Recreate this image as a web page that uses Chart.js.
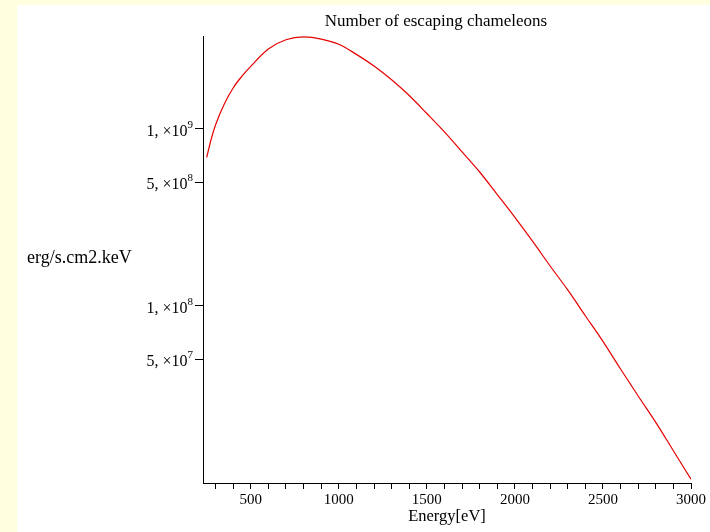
<!DOCTYPE html>
<html>
<head>
<meta charset="utf-8">
<script src="https://cdn.jsdelivr.net/npm/chart.js@4"></script>
<style>
  html, body { margin: 0; padding: 0; background: #ffffe0; width: 710px; height: 532px; overflow: hidden; }
  #box { position: absolute; left: 17px; top: 5px; width: 693px; height: 527px; background: #fff; }
</style>
</head>
<body>
<div id="box"><canvas id="myChart"></canvas></div>
<script>
"use strict";
// Data
const energy = [250, 275, 300, 350, 400, 450, 500, 600, 700, 800, 900, 1000, 1100, 1200, 1300, 1400, 1500,
    1600, 1700, 1800, 1900, 2000, 2100, 2200, 2300, 2400, 2500, 2600, 2700, 2800, 2900, 3000];
const flux = [6.9e8, 8.7e8, 1.05e9, 1.38e9, 1.70e9, 1.98e9, 2.25e9, 2.82e9, 3.18e9, 3.30e9, 3.21e9, 3.00e9,
    2.63e9, 2.26e9, 1.89e9, 1.54e9, 1.22e9, 9.6e8, 7.4e8, 5.7e8, 4.25e8, 3.16e8, 2.32e8, 1.68e8, 1.23e8,
    8.8e7, 6.3e7, 4.4e7, 3.1e7, 2.2e7, 1.52e7, 1.05e7];
const xTicks = [300, 400, 500, 600, 700, 800, 900, 1000, 1100, 1200, 1300, 1400, 1500, 1600, 1700, 1800,
    1900, 2000, 2100, 2200, 2300, 2400, 2500, 2600, 2700, 2800, 2900, 3000];
const xLabels = [500, 1000, 1500, 2000, 2500, 3000];
const yTicks = [5e7, 1e8, 5e8, 1e9];
const yMantissa = ["5", "1", "5", "1"];
const yExponent = ["7", "8", "8", "9"];

const font = "'Liberation Serif', 'Times New Roman', serif";

// extra texts: title, axis labels, y tick labels with real superscripts
const texts = {
    id: "texts",
    afterDraw(chart) {
        const ctx = chart.ctx;
        const ys = chart.scales.y;
        ctx.save();
        ctx.fillStyle = "#000";
        ctx.textBaseline = "middle";
        ctx.textAlign = "center";
        ctx.font = "17px " + font;
        ctx.fillText("Number of escaping chameleons", 419, 17);
        ctx.font = "16.5px " + font;
        ctx.fillText("Energy[eV]", 430, 512);
        ctx.textAlign = "left";
        ctx.font = "18px " + font;
        ctx.fillText("erg/s.cm2.keV", 10, 253);

        const right = ys.left + ys.width - 10;
        yTicks.forEach((v, i) => {
            const y = ys.getPixelForValue(v);
            ctx.textBaseline = "alphabetic";
            ctx.font = "11px " + font;
            const ew = ctx.measureText(yExponent[i]).width;
            ctx.textAlign = "left";
            ctx.fillText(yExponent[i], right - ew, y - 1);
            ctx.font = "16px " + font;
            ctx.textAlign = "right";
            ctx.fillText(yMantissa[i] + ", \u00d710", right - ew, y + 7);
        });
        ctx.restore();
    },
};

const data = {
    datasets: [
        {
            data: energy.map((e, i) => ({ x: e, y: flux[i] })),
            borderColor: "#e60000",
            borderWidth: 1.2,
            pointRadius: 0,
            cubicInterpolationMode: "monotone",
            fill: false,
        },
    ],
};

const config = {
    type: "line",
    data: data,
    plugins: [texts],
    options: {
        responsive: true,
        maintainAspectRatio: false,
        animation: false,
        layout: { padding: { top: 31, right: 19, left: 0, bottom: 0 } },
        scales: {
            x: {
                type: "linear",
                min: 229,
                max: 3000,
                afterBuildTicks: (s) => { s.ticks = xTicks.map(v => ({ value: v })); },
                afterFit: (s) => { s.height = 49; },
                grid: { drawOnChartArea: false, tickLength: 6, color: "#000" },
                border: { color: "#000", width: 1 },
                ticks: {
                    autoSkip: false,
                    maxRotation: 0,
                    padding: 2,
                    color: "#000",
                    font: { family: font, size: 15 },
                    callback: (v) => (xLabels.includes(v) ? String(v) : ""),
                },
            },
            y: {
                type: "logarithmic",
                min: 1e7,
                max: 3.34e9,
                afterBuildTicks: (s) => { s.ticks = yTicks.map(v => ({ value: v })); },
                afterFit: (s) => { s.width = 186; },
                grid: { drawOnChartArea: false, tickLength: 8, color: "#000" },
                border: { color: "#000", width: 1 },
                ticks: { display: false },
            },
        },
        plugins: {
            legend: { display: false },
            title: { display: false },
            tooltip: { enabled: false },
        },
    },
};

const myChart = new Chart(document.getElementById("myChart"), config);
</script>
</body>
</html>
